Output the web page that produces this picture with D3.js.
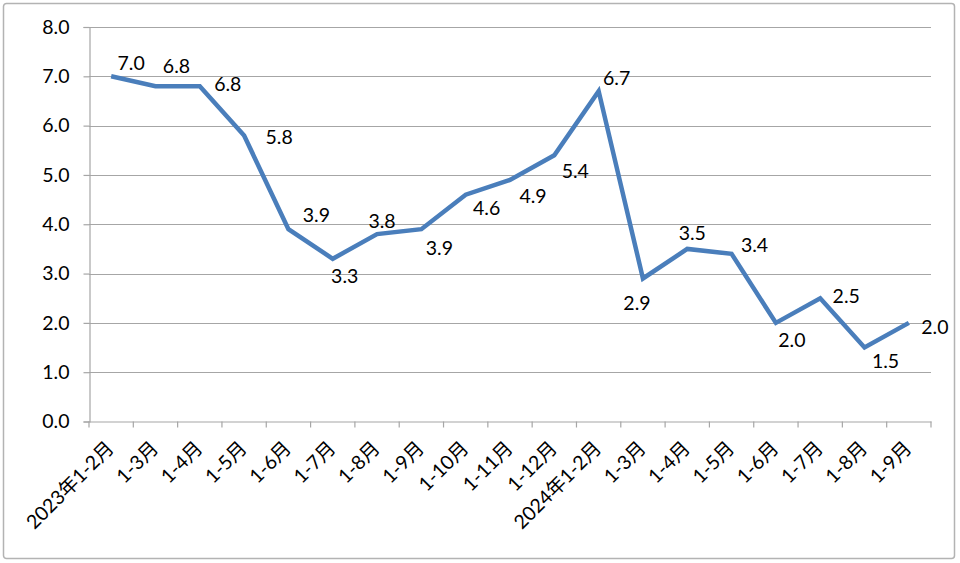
<!DOCTYPE html>
<html><head><meta charset="utf-8">
<script src="https://cdn.jsdelivr.net/npm/d3@7/dist/d3.min.js"></script>
<style>
html,body{margin:0;padding:0;background:#fff;}
svg{display:block;}
</style></head>
<body>
<svg id="chart" width="960" height="563"></svg>
<script>
// ---- data ----
const categories = ["2023年1-2月","1-3月","1-4月","1-5月","1-6月","1-7月","1-8月","1-9月","1-10月","1-11月","1-12月",
  "2024年1-2月","1-3月","1-4月","1-5月","1-6月","1-7月","1-8月","1-9月"];
const values = [7.0,6.8,6.8,5.8,3.9,3.3,3.8,3.9,4.6,4.9,5.4,6.7,2.9,3.5,3.4,2.0,2.5,1.5,2.0];
const yTicks = [0,1,2,3,4,5,6,7,8];

// ---- layout ----
const plot = {left: 89, right: 931, top: 27, bottom: 421.5};
const svg = d3.select("#chart");
const font = "Lato,'Noto Sans CJK SC',sans-serif";

// outer border
svg.append("rect").attr("x",3.5).attr("y",3.5).attr("width",951).attr("height",555)
  .attr("rx",3).attr("fill","#fff").attr("stroke","#b3b3b3").attr("stroke-width",1.5);

const keys = categories.map((c,i)=>i);
const x = d3.scaleBand().domain(keys).range([plot.left, plot.right]).padding(0);
const y = d3.scaleLinear().domain([0,8]).range([plot.bottom, plot.top]);

// gridlines
svg.append("g").selectAll("line").data(yTicks.filter(t=>t>0)).join("line")
  .attr("x1",plot.left).attr("x2",plot.right)
  .attr("y1",d=>Math.round(y(d))+0.5).attr("y2",d=>Math.round(y(d))+0.5)
  .attr("stroke","#a6a6a6").attr("stroke-width",1);

// y axis
const yAxis = d3.axisLeft(y).tickValues(yTicks).tickFormat(d3.format(".1f")).tickSize(6).tickPadding(14);
const gy = svg.append("g").attr("transform",`translate(${plot.left+0.5},0)`).call(yAxis);
gy.select(".domain").attr("stroke","#a6a6a6").attr("stroke-width",1.2);
gy.selectAll(".tick line").attr("stroke","#a6a6a6").attr("stroke-width",1.2);
gy.selectAll(".tick text").attr("font-family",font).attr("font-size",19.5).attr("fill","#000");

// x axis
const xAxis = d3.axisBottom(x).tickSize(0).tickFormat(i=>categories[i]);
const gx = svg.append("g").attr("transform",`translate(0,${plot.bottom})`).call(xAxis);
gx.select(".domain").attr("stroke","#a6a6a6").attr("stroke-width",1.2);
gx.selectAll(".tick text")
  .attr("font-family",font).attr("font-size",19.5).attr("fill","#000")
  .attr("text-anchor","end").attr("dy",null).attr("y",null)
  .attr("transform","translate(4,28) rotate(-45)");
// x tick marks at band boundaries
const bounds = keys.map(i=>x(i)).concat([x(keys[keys.length-1])+x.bandwidth()]);
svg.append("g").selectAll("line").data(bounds).join("line")
  .attr("x1",d=>d).attr("x2",d=>d).attr("y1",plot.bottom).attr("y2",plot.bottom+6)
  .attr("stroke","#a6a6a6").attr("stroke-width",1.2);

// line
const cx = i => x(i) + x.bandwidth()/2;
const line = d3.line().x((d,i)=>cx(i)).y(d=>y(d));
svg.append("path").datum(values).attr("d",line)
  .attr("fill","none").attr("stroke","#4A7EBB").attr("stroke-width",4.5)
  .attr("stroke-linejoin","miter").attr("stroke-linecap","butt");

// data labels (offsets from point, px)
const labelOffsets = [[20,-14],[21,-21],[28,-3],[35,1.5],[28,-15],[12,17],[5,-13.6],[18,18],[21,13],[23,15.6],
  [21,15],[18,-13.6],[-6,24],[5,-16],[23,-9],[16,16.6],[26,-3],[21,13],[26,3.6]];
svg.append("g").selectAll("text").data(values).join("text")
  .attr("x",(d,i)=>cx(i)+labelOffsets[i][0])
  .attr("y",(d,i)=>y(d)+labelOffsets[i][1])
  .attr("text-anchor","middle").attr("dominant-baseline","central")
  .attr("font-family",font).attr("font-size",19.5).attr("fill","#000")
  .text(d=>d3.format(".1f")(d));
</script>
</body></html>
